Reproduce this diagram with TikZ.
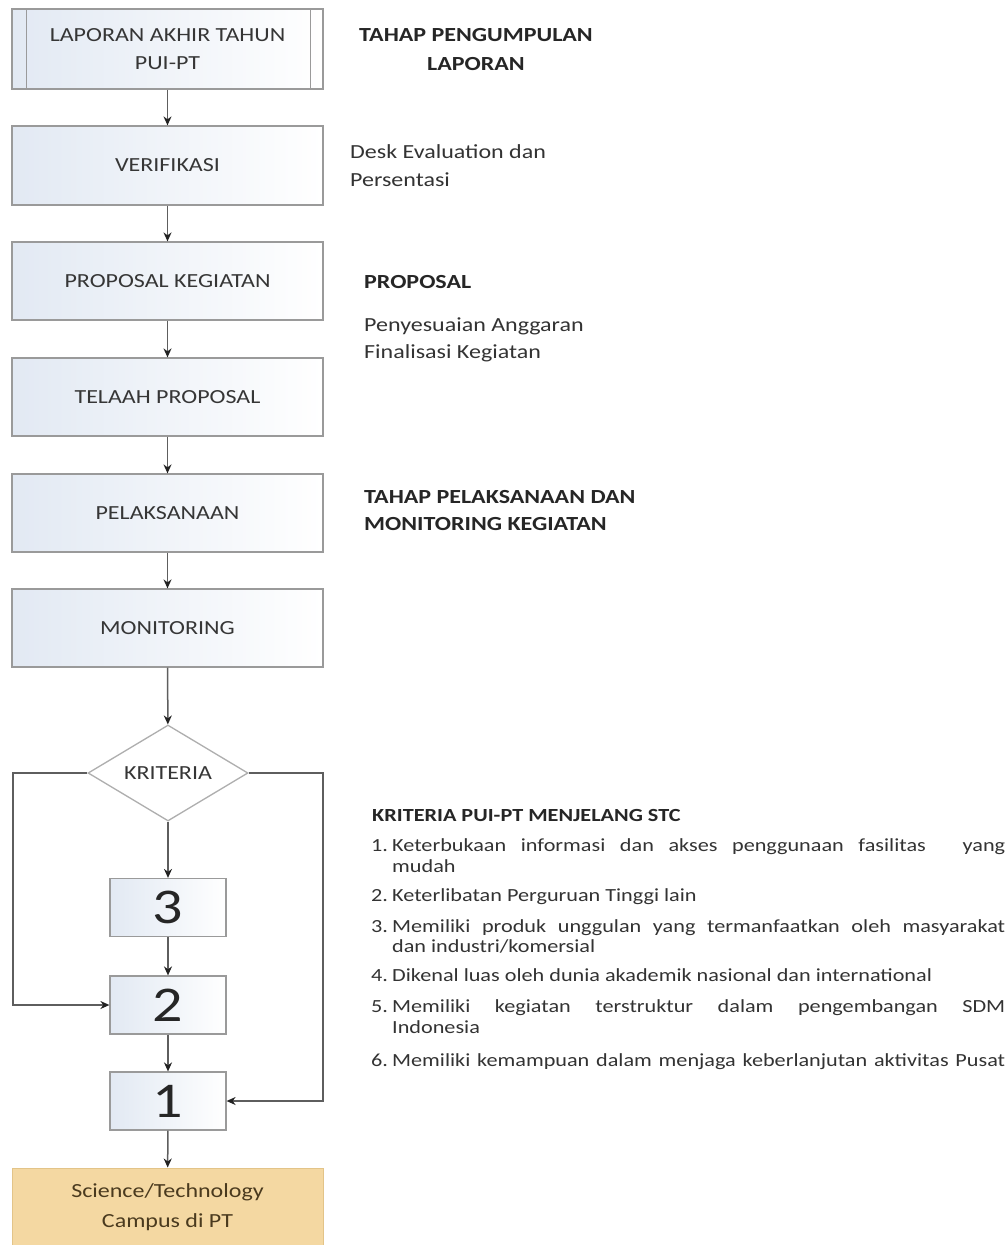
\documentclass[tikz,border=0pt]{standalone}
\usepackage{fontspec}
\setmainfont{Carlito}[FakeStretch=1.2]
\usetikzlibrary{arrows.meta,shapes.geometric,calc}
\definecolor{boxline}{HTML}{9A9A9A}
\definecolor{boxblue}{HTML}{E2E9F3}
\definecolor{linegray}{HTML}{5E5E5E}
\definecolor{tipgray}{HTML}{222222}
\definecolor{tanfill}{HTML}{F4D8A2}
\definecolor{tanline}{HTML}{E3C488}
\definecolor{browntxt}{HTML}{4A3A1E}
\definecolor{txt}{HTML}{363636}
\begin{document}
\begin{tikzpicture}[x=1pt,y=-1pt,
  procbox/.style={draw=boxline, line width=1.2pt, left color=boxblue, right color=white,
    minimum width=311pt, minimum height=79pt, inner sep=0pt,
    font=\fontsize{20}{28}\selectfont, text=txt, align=center},
  numbox/.style={procbox, minimum width=116pt, minimum height=58pt,
    font=\fontsize{50}{50}\selectfont, text=black!85},
  decbox/.style={draw=boxline!80, line width=1.3pt, fill=white, shape=diamond, aspect=1.67,
    minimum width=160pt, minimum height=96pt, inner sep=0pt,
    font=\fontsize{20}{28}\selectfont, text=txt},
  endbox/.style={draw=tanline, line width=1pt, fill=tanfill,
    minimum width=311pt, minimum height=78pt, inner sep=0pt,
    font=\fontsize{20}{30}\selectfont, text=browntxt, align=center},
  flow/.style={draw=linegray, line width=1.5pt, -{Stealth[length=9pt,width=8pt,color=tipgray]}},
  head/.style={font=\fontsize{20}{28}\selectfont\bfseries, text=black!85, inner sep=0pt},
  note/.style={font=\fontsize{20}{28}\selectfont, text=black!80, inner sep=0pt},
  crit/.style={font=\fontsize{18.5}{21}\selectfont, text=black!80, inner sep=0pt},
  crithead/.style={font=\fontsize{18.5}{21}\selectfont\bfseries, text=black!85, inner sep=0pt}
]
\fill[white] (0,0) rectangle (1008,1245);
\useasboundingbox (0,0) rectangle (1008,1245);

% flow boxes
\node[procbox, minimum height=80pt] (lap) at (167.5,49) {LAPORAN AKHIR TAHUN\\PUI-PT};
\draw[boxline, line width=1.2pt] ($(lap.north west)+(15,0)$) -- ($(lap.south west)+(15,0)$);
\draw[boxline, line width=1.2pt] ($(lap.north east)+(-13,0)$) -- ($(lap.south east)+(-13,0)$);
\node[procbox] (ver) at (167.5,165.5) {VERIFIKASI};
\node[procbox, minimum height=78pt] (prop) at (167.5,281) {PROPOSAL KEGIATAN};
\node[procbox, minimum height=78pt] (tel) at (167.5,397) {TELAAH PROPOSAL};
\node[procbox, minimum height=78pt] (pel) at (167.5,513) {PELAKSANAAN};
\node[procbox, minimum height=78pt] (mon) at (167.5,628) {MONITORING};
\node[decbox] (kri) at (168,773) {KRITERIA};
\node[numbox] (n3) at (168,907.5) {3};
\node[numbox] (n2) at (168,1005) {2};
\node[numbox] (n1) at (168,1101) {1};
\node[endbox] (sci) at (167.5,1207) {Science/Technology\\Campus di PT};

% connectors
\draw[flow] (lap) -- (ver);
\draw[flow] (ver) -- (prop);
\draw[flow] (prop) -- (tel);
\draw[flow] (tel) -- (pel);
\draw[flow] (pel) -- (mon);
\draw[flow] (mon) -- (kri);
\draw[flow] (kri) -- (n3);
\draw[flow] (n3) -- (n2);
\draw[flow] (n2) -- (n1);
\draw[flow] (n1) -- (sci);
\coordinate (lc) at (13,773);
\coordinate (rc) at (323,773);
\draw[flow] (kri.west) -- (lc) |- (n2.west);
\draw[flow] (kri.east) -- (rc) |- (n1.east);

% right-hand notes
\node[head, anchor=base] (h1a) at (476,41.5) {TAHAP PENGUMPULAN};
\node[head, anchor=base] (h1b) at (476,70.5) {LAPORAN};
\node[note, anchor=base west] (d1) at (350,158) {Desk Evaluation dan};
\node[note, anchor=base west] (d2) at (350,186) {Persentasi};
\node[head, anchor=base west] (h2) at (364,288) {PROPOSAL};
\node[note, anchor=base west] (p1) at (364,331) {Penyesuaian Anggaran};
\node[note, anchor=base west] (p2) at (364,358) {Finalisasi Kegiatan};
\node[head, anchor=base west] (h3a) at (364,503.5) {TAHAP PELAKSANAAN DAN};
\node[head, anchor=base west] (h3b) at (364,530.5) {MONITORING KEGIATAN};

% criteria list
\node[crithead, anchor=base west] (kh) at (372,821) {KRITERIA PUI-PT MENJELANG STC};
\node[crit, anchor=base west] (k1n) at (371,851) {1.};
\node[crit, anchor=base west] (k1a) at (392,851) {\makebox[613pt][s]{Keterbukaan informasi dan akses penggunaan fasilitas\hspace{1.2em} yang}};
\node[crit, anchor=base west] (k1b) at (392,872) {mudah};
\node[crit, anchor=base west] (k2n) at (371,901) {2.};
\node[crit, anchor=base west] (k2a) at (392,901) {Keterlibatan Perguruan Tinggi lain};
\node[crit, anchor=base west] (k3n) at (371,932) {3.};
\node[crit, anchor=base west] (k3a) at (392,932) {\makebox[613pt][s]{Memiliki produk unggulan yang termanfaatkan oleh masyarakat}};
\node[crit, anchor=base west] (k3b) at (392,952) {dan industri/komersial};
\node[crit, anchor=base west] (k4n) at (371,981) {4.};
\node[crit, anchor=base west] (k4a) at (392,981) {Dikenal luas oleh dunia akademik nasional dan international};
\node[crit, anchor=base west] (k5n) at (371,1012) {5.};
\node[crit, anchor=base west] (k5a) at (392,1012) {\makebox[613pt][s]{Memiliki kegiatan terstruktur dalam pengembangan SDM}};
\node[crit, anchor=base west] (k5b) at (392,1033) {Indonesia};
\node[crit, anchor=base west] (k6n) at (371,1066) {6.};
\node[crit, anchor=base west] (k6a) at (392,1066) {\makebox[613pt][s]{Memiliki kemampuan dalam menjaga keberlanjutan aktivitas Pusat}};
\end{tikzpicture}
\end{document}
